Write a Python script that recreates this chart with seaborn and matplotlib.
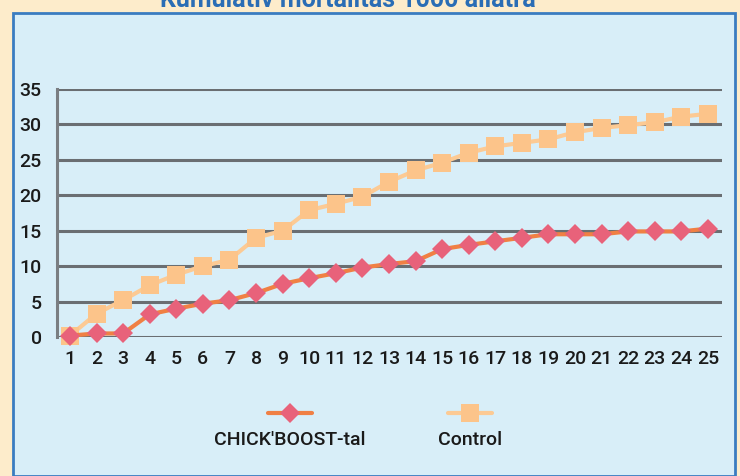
import pandas as pd
import matplotlib.pyplot as plt
import seaborn as sns
from matplotlib.patches import Rectangle
from matplotlib.lines import Line2D

days = list(range(1, 26))
chickboost = [0.2, 0.5, 0.5, 3.2, 4.0, 4.7, 5.2, 6.2, 7.5, 8.3, 9.0, 9.8, 10.3,
              10.7, 12.4, 13.0, 13.5, 14.0, 14.5, 14.5, 14.5, 14.9, 14.9, 14.9, 15.3]
control = [0.2, 3.3, 5.2, 7.3, 8.8, 10.0, 10.9, 14.0, 15.0, 17.9, 18.8, 19.8, 21.9,
           23.5, 24.6, 26.0, 26.9, 27.4, 27.9, 28.9, 29.5, 29.9, 30.3, 31.1, 31.5]
yticks = [0, 5, 10, 15, 20, 25, 30, 35]

sns.set_style("white")
plt.rcParams['font.family'] = ['Roboto', 'DejaVu Sans']
plt.rcParams['font.weight'] = 'medium'

df = pd.DataFrame({'day': days, "CHICK'BOOST-tal": chickboost, 'Control': control})

fig = plt.figure(figsize=(7.4, 4.76), dpi=100)
fig.patch.set_facecolor('#fdeccb')
panel = Rectangle((13 / 740, 0), 722 / 740, 1 - 13 / 476, transform=fig.transFigure,
                  facecolor='#d8eef8', edgecolor='#3a7cc0', linewidth=2, zorder=0)
fig.add_artist(panel)
# title is mostly cut off at the top edge, as in the source
fig.text(0.47, 1.0, 'Kumulatív mortalitás 1000 állatra', ha='center', va='center',
         fontsize=18, fontweight='bold', color='#2a6db5')

ax = fig.add_axes([57 / 740, 1 - 337 / 476, 665 / 740, 248 / 476])
ax.set_facecolor('none')

# control first so the red line sits on top
sns.lineplot(data=df, x='day', y='Control', ax=ax, color='#fcca94', linewidth=3,
             marker='s', markersize=13, markerfacecolor='#fcc48a', markeredgewidth=0,
             clip_on=False, zorder=3)
sns.lineplot(data=df, x='day', y="CHICK'BOOST-tal", ax=ax, color='#f08044', linewidth=3,
             marker='D', markersize=10, markerfacecolor='#e8627a', markeredgewidth=0,
             clip_on=False, zorder=4)

ax.set_xlim(0.51, 25.53)
ax.set_ylim(0, 35)
ax.set_xticks(days)
ax.set_yticks(yticks)
ax.set_xlabel('')
ax.set_ylabel('')
ax.yaxis.grid(True, color='#6a6e72', linewidth=2.2)
ax.set_axisbelow(True)
for s in ['top', 'right', 'bottom']:
    ax.spines[s].set_visible(False)
ax.spines['left'].set_color('#7a7e82')
ax.spines['left'].set_linewidth(2.2)
ax.tick_params(axis='y', length=7, width=2.2, color='#6a6e72', pad=4, labelsize=14,
               labelcolor='#1a1a1a')
ax.tick_params(axis='x', length=0, pad=9, labelsize=14, labelcolor='#1a1a1a')

# legend: marker sample above the label text
items = [(290 / 740, "CHICK'BOOST-tal", '#f08044', 'D', '#e8627a', 10),
         (470 / 740, 'Control', '#fcca94', 's', '#fcc48a', 13)]
for cx, label, lc, mk, mc, ms in items:
    hw = 22 / 740
    fig.add_artist(Line2D([cx - hw, cx, cx + hw], [1 - 413 / 476] * 3, transform=fig.transFigure,
                          color=lc, linewidth=3, marker=mk, markersize=ms, markevery=[1],
                          markerfacecolor=mc, markeredgewidth=0))
    fig.text(cx, 1 - 440 / 476, label, ha='center', va='center', fontsize=14, color='#1a1a1a')

fig.savefig('out.png', dpi=100, facecolor=fig.get_facecolor())
